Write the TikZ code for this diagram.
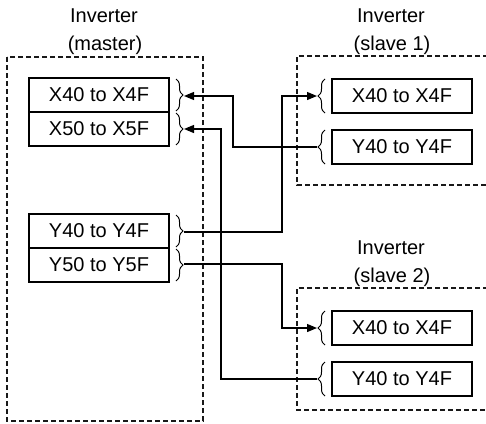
\documentclass[tikz,border=0pt]{standalone}
\usepackage{fontspec}
\setmainfont{Liberation Sans}
\usetikzlibrary{arrows.meta,decorations.pathreplacing}
\begin{document}
\begin{tikzpicture}[x=1pt,y=-1pt,
  every node/.style={font=\fontsize{20}{24}\selectfont, inner sep=0pt},
  regbox/.style={draw, line width=1.2pt, minimum width=140pt, minimum height=34pt},
  unitbox/.style={draw, line width=1.1pt, dash pattern=on 5pt off 3pt, gray!20!black},
  br/.style={decorate, decoration={brace, amplitude=7pt}, line width=1pt},
  wire/.style={line width=1.2pt},
  arr/.style={wire, -{Triangle[length=10pt,width=8pt]}},
  title/.style={anchor=base}]
\useasboundingbox (0,0) rectangle (486,423);
\begin{scope}
\clip (0,0) rectangle (486,423);
% unit boxes
\draw[unitbox] (7,57) rectangle (203,421);
\draw[unitbox] (520,56) -- (297,56) -- (297,185) -- (520,185);
\draw[unitbox] (520,288) -- (297,288) -- (297,410) -- (520,410);
\end{scope}
% titles
\node[title] (mT1) at (104,22) {Inverter};
\node[title] (mT2) at (105,50) {(master)};
\node[title] (aT1) at (391,22) {Inverter};
\node[title] (aT2) at (392,50) {(slave 1)};
\node[title] (bT1) at (391,254) {Inverter};
\node[title] (bT2) at (392,282) {(slave 2)};
% master registers
\node[regbox] (mX4) at (99,95) {X40 to X4F};
\node[regbox] (mX5) at (99,129) {X50 to X5F};
\node[regbox] (mY4) at (99,231) {Y40 to Y4F};
\node[regbox] (mY5) at (99,265) {Y50 to Y5F};
% slave registers
\node[regbox] (aX4) at (402,96) {X40 to X4F};
\node[regbox] (aY4) at (402,147) {Y40 to Y4F};
\node[regbox] (bX4) at (402,328) {X40 to X4F};
\node[regbox] (bY4) at (402,379) {Y40 to Y4F};
% braces
\draw[br] (176,79) -- (176,111);
\draw[br] (176,113) -- (176,145);
\draw[br] (176,215) -- (176,247);
\draw[br] (176,249) -- (176,281);
\draw[br] (325,113) -- (325,79);
\draw[br] (325,164) -- (325,130);
\draw[br] (325,345) -- (325,311);
\draw[br] (325,396) -- (325,362);
% brace tips
\coordinate (mX4b) at (184,96);
\coordinate (mX5b) at (184,129);
\coordinate (mY4b) at (184,232);
\coordinate (mY5b) at (184,264);
\coordinate (aX4b) at (317,96);
\coordinate (aY4b) at (317,147);
\coordinate (bX4b) at (317,328);
\coordinate (bY4b) at (317,379);
% junctions
\coordinate (j1) at (233,96);
\coordinate (j2) at (221,129);
\coordinate (j3) at (282,96);
\coordinate (j4) at (282,328);
% connectors
\draw[arr] (aY4b) -| (j1) -- (mX4b);
\draw[arr] (bY4b) -| (j2) -- (mX5b);
\draw[arr] (mY4b) -| (j3) -- (aX4b);
\draw[arr] (mY5b) -| (j4) -- (bX4b);
\end{tikzpicture}
\end{document}
